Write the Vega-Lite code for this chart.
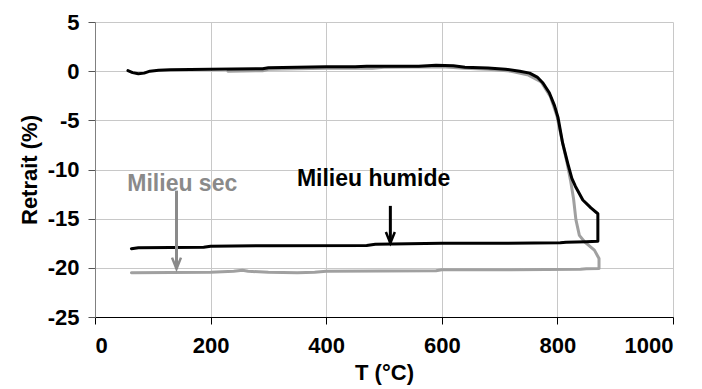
{
  "$schema": "https://vega.github.io/schema/vega-lite/v6.json",
  "width": 578,
  "height": 295,
  "autosize": "none",
  "padding": {"left": 95, "top": 22, "right": 29, "bottom": 72},
  "background": "white",
  "config": {
    "view": {"stroke": null},
    "font": "Liberation Sans",
    "axis": {
      "labelFont": "Liberation Sans", "labelFontWeight": "bold", "labelFontSize": 22, "labelColor": "black",
      "titleFont": "Liberation Sans", "titleFontWeight": "bold", "titleFontSize": 22, "titleColor": "black",
      "gridColor": "#c8c8c8", "gridWidth": 1, "tickSize": 7, "tickWidth": 1
    }
  },
  "datasets": {
    "curves": [
      {"s": "humide", "i": 1, "T": 57, "R": 0.05},
      {"s": "humide", "i": 2, "T": 65, "R": -0.15},
      {"s": "humide", "i": 3, "T": 75, "R": -0.27},
      {"s": "humide", "i": 4, "T": 85, "R": -0.2},
      {"s": "humide", "i": 5, "T": 95, "R": 0.0},
      {"s": "humide", "i": 6, "T": 110, "R": 0.1},
      {"s": "humide", "i": 7, "T": 130, "R": 0.15},
      {"s": "humide", "i": 8, "T": 200, "R": 0.2},
      {"s": "humide", "i": 9, "T": 290, "R": 0.25},
      {"s": "humide", "i": 10, "T": 300, "R": 0.35},
      {"s": "humide", "i": 11, "T": 400, "R": 0.45},
      {"s": "humide", "i": 12, "T": 450, "R": 0.45},
      {"s": "humide", "i": 13, "T": 470, "R": 0.5},
      {"s": "humide", "i": 14, "T": 560, "R": 0.5},
      {"s": "humide", "i": 15, "T": 590, "R": 0.6},
      {"s": "humide", "i": 16, "T": 620, "R": 0.55},
      {"s": "humide", "i": 17, "T": 640, "R": 0.4},
      {"s": "humide", "i": 18, "T": 680, "R": 0.32},
      {"s": "humide", "i": 19, "T": 710, "R": 0.2},
      {"s": "humide", "i": 20, "T": 735, "R": 0.0},
      {"s": "humide", "i": 21, "T": 752, "R": -0.2},
      {"s": "humide", "i": 22, "T": 765, "R": -0.6},
      {"s": "humide", "i": 23, "T": 775, "R": -1.2},
      {"s": "humide", "i": 24, "T": 786, "R": -2.2},
      {"s": "humide", "i": 25, "T": 795, "R": -3.5},
      {"s": "humide", "i": 26, "T": 801, "R": -4.7},
      {"s": "humide", "i": 27, "T": 809, "R": -7.3},
      {"s": "humide", "i": 28, "T": 818, "R": -9.4},
      {"s": "humide", "i": 29, "T": 825, "R": -10.9},
      {"s": "humide", "i": 30, "T": 831, "R": -11.7},
      {"s": "humide", "i": 31, "T": 844, "R": -13.1},
      {"s": "humide", "i": 32, "T": 858, "R": -13.9},
      {"s": "humide", "i": 33, "T": 870, "R": -14.5},
      {"s": "humide", "i": 34, "T": 870, "R": -17.3},
      {"s": "humide", "i": 35, "T": 850, "R": -17.35},
      {"s": "humide", "i": 36, "T": 815, "R": -17.4},
      {"s": "humide", "i": 37, "T": 805, "R": -17.45},
      {"s": "humide", "i": 38, "T": 700, "R": -17.5},
      {"s": "humide", "i": 39, "T": 600, "R": -17.5},
      {"s": "humide", "i": 40, "T": 485, "R": -17.6},
      {"s": "humide", "i": 41, "T": 470, "R": -17.72},
      {"s": "humide", "i": 42, "T": 300, "R": -17.75},
      {"s": "humide", "i": 43, "T": 200, "R": -17.8},
      {"s": "humide", "i": 44, "T": 188, "R": -17.9},
      {"s": "humide", "i": 45, "T": 75, "R": -17.95},
      {"s": "humide", "i": 46, "T": 63, "R": -18.05},
      {"s": "sec", "i": 1, "T": 230, "R": 0.0},
      {"s": "sec", "i": 2, "T": 290, "R": 0.05},
      {"s": "sec", "i": 3, "T": 300, "R": 0.2},
      {"s": "sec", "i": 4, "T": 400, "R": 0.3},
      {"s": "sec", "i": 5, "T": 480, "R": 0.3},
      {"s": "sec", "i": 6, "T": 500, "R": 0.4},
      {"s": "sec", "i": 7, "T": 600, "R": 0.45},
      {"s": "sec", "i": 8, "T": 640, "R": 0.3},
      {"s": "sec", "i": 9, "T": 680, "R": 0.2},
      {"s": "sec", "i": 10, "T": 720, "R": 0.0},
      {"s": "sec", "i": 11, "T": 750, "R": -0.4},
      {"s": "sec", "i": 12, "T": 772, "R": -1.1},
      {"s": "sec", "i": 13, "T": 788, "R": -2.6},
      {"s": "sec", "i": 14, "T": 799, "R": -4.5},
      {"s": "sec", "i": 15, "T": 809, "R": -7.3},
      {"s": "sec", "i": 16, "T": 817, "R": -9.4},
      {"s": "sec", "i": 17, "T": 823, "R": -11.2},
      {"s": "sec", "i": 18, "T": 828, "R": -13.0},
      {"s": "sec", "i": 19, "T": 832, "R": -15.1},
      {"s": "sec", "i": 20, "T": 838, "R": -16.7},
      {"s": "sec", "i": 21, "T": 847, "R": -17.35},
      {"s": "sec", "i": 22, "T": 864, "R": -18.2},
      {"s": "sec", "i": 23, "T": 872, "R": -19.05},
      {"s": "sec", "i": 24, "T": 872, "R": -20.07},
      {"s": "sec", "i": 25, "T": 850, "R": -20.1},
      {"s": "sec", "i": 26, "T": 840, "R": -20.15},
      {"s": "sec", "i": 27, "T": 720, "R": -20.2},
      {"s": "sec", "i": 28, "T": 600, "R": -20.2},
      {"s": "sec", "i": 29, "T": 590, "R": -20.3},
      {"s": "sec", "i": 30, "T": 400, "R": -20.35},
      {"s": "sec", "i": 31, "T": 380, "R": -20.45},
      {"s": "sec", "i": 32, "T": 350, "R": -20.5},
      {"s": "sec", "i": 33, "T": 300, "R": -20.45},
      {"s": "sec", "i": 34, "T": 265, "R": -20.35},
      {"s": "sec", "i": 35, "T": 255, "R": -20.25},
      {"s": "sec", "i": 36, "T": 240, "R": -20.35},
      {"s": "sec", "i": 37, "T": 200, "R": -20.45},
      {"s": "sec", "i": 38, "T": 63, "R": -20.5}
    ],
    "arrows": [
      {"s": "sec", "T": 141, "y1": -12.15, "y2": -20.1},
      {"s": "humide", "T": 511, "y1": -13.7, "y2": -17.5}
    ],
    "labels": [
      {"s": "sec", "T": 151, "R": -12.2, "txt": "Milieu sec"},
      {"s": "humide", "T": 482, "R": -11.7, "txt": "Milieu humide"}
    ]
  },
  "layer": [
    {
      "data": {"name": "curves"},
      "transform": [{"filter": "datum.s === 'sec'"}],
      "mark": {"type": "line", "color": "#a0a0a0", "strokeWidth": 3, "strokeCap": "round", "strokeJoin": "round", "clip": true},
      "encoding": {
        "x": {"field": "T", "type": "quantitative", "scale": {"domain": [0, 1000], "nice": false},
              "axis": {"values": [0, 200, 400, 600, 800, 1000], "labelExpr": "'' + datum.value", "title": "T (°C)", "domainColor": "black", "tickColor": "black", "labelPadding": 11, "titlePadding": 6}},
        "y": {"field": "R", "type": "quantitative", "scale": {"domain": [-25, 5], "nice": false},
              "axis": {"values": [-25, -20, -15, -10, -5, 0, 5], "labelExpr": "'' + datum.value", "title": "Retrait (%)", "domainColor": "#808080", "tickColor": "#555555", "labelPadding": 9, "titlePadding": 6}},
        "order": {"field": "i", "type": "quantitative"}
      }
    },
    {
      "data": {"name": "curves"},
      "transform": [{"filter": "datum.s === 'humide'"}],
      "mark": {"type": "line", "color": "black", "strokeWidth": 3, "strokeCap": "round", "strokeJoin": "round", "clip": true},
      "encoding": {
        "x": {"field": "T", "type": "quantitative"},
        "y": {"field": "R", "type": "quantitative"},
        "order": {"field": "i", "type": "quantitative"}
      }
    },
    {
      "data": {"name": "arrows"},
      "mark": {"type": "rule", "strokeWidth": 3},
      "encoding": {
        "x": {"field": "T", "type": "quantitative"},
        "y": {"field": "y1", "type": "quantitative"},
        "y2": {"field": "y2"},
        "color": {"field": "s", "type": "nominal", "scale": {"domain": ["sec", "humide"], "range": ["#8a8a8a", "black"]}, "legend": null}
      }
    },
    {
      "data": {"name": "arrows"},
      "mark": {"type": "point", "shape": "M-0.4,-1L0,0L0.4,-1", "filled": false, "strokeWidth": 2.5, "size": 500, "opacity": 1},
      "encoding": {
        "x": {"field": "T", "type": "quantitative"},
        "y": {"field": "y2", "type": "quantitative"},
        "color": {"field": "s", "type": "nominal", "legend": null}
      }
    },
    {
      "data": {"name": "labels"},
      "mark": {"type": "text", "font": "Liberation Sans", "fontWeight": "bold", "fontSize": 23, "baseline": "alphabetic", "align": "center"},
      "encoding": {
        "x": {"field": "T", "type": "quantitative"},
        "y": {"field": "R", "type": "quantitative"},
        "text": {"field": "txt"},
        "color": {"field": "s", "type": "nominal", "legend": null}
      }
    }
  ]
}
